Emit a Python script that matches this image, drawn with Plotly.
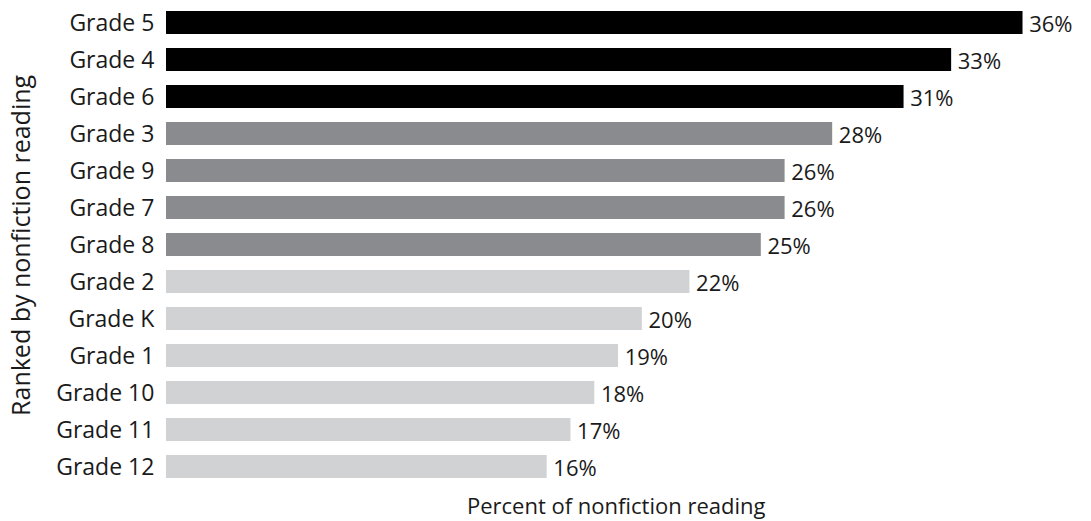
import plotly.graph_objects as go

# Share of nonfiction reading by grade, ranked high to low
grades = ["Grade 5", "Grade 4", "Grade 6", "Grade 3", "Grade 9", "Grade 7", "Grade 8",
          "Grade 2", "Grade K", "Grade 1", "Grade 10", "Grade 11", "Grade 12"]
percent = [36, 33, 31, 28, 26, 26, 25, 22, 20, 19, 18, 17, 16]
tier = ["top", "top", "top", "mid", "mid", "mid", "mid",
        "low", "low", "low", "low", "low", "low"]

tier_colors = {"top": "#000000", "mid": "#8a8b8f", "low": "#d1d2d4"}
bar_colors = [tier_colors[t] for t in tier]

FONT = "'Open Sans', sans-serif"
TEXT = "#1a1a1a"

fig = go.Figure(
    go.Bar(
        x=percent,
        y=grades,
        orientation="h",
        marker=dict(color=bar_colors, line=dict(width=0)),
        # thin space keeps the value labels a few pixels clear of the bar ends
        texttemplate="\u2009%{x}%",
        textposition="outside",
        constraintext="none",
        textfont=dict(family=FONT, size=22, color=TEXT),
        cliponaxis=False,
        hoverinfo="skip",
    )
)

fig.update_layout(
    width=1091,
    height=521,
    margin=dict(l=166, r=9, t=3.5, b=35.5),
    paper_bgcolor="white",
    plot_bgcolor="white",
    bargap=0.38,
    showlegend=False,
    font=dict(family=FONT, color=TEXT),
    xaxis=dict(range=[0, 38.5], showgrid=False, zeroline=False,
               showticklabels=False, showline=False, fixedrange=True),
    yaxis=dict(autorange="reversed", showgrid=False, zeroline=False, showline=False,
               ticks="outside", ticklen=6, tickcolor="rgba(0,0,0,0)",
               tickfont=dict(family=FONT, size=23, color=TEXT), fixedrange=True),
    annotations=[
        dict(text="Percent of nonfiction reading", xref="paper", yref="paper",
             x=0.491, y=-0.041, yanchor="middle", showarrow=False,
             font=dict(family=FONT, size=22, color=TEXT)),
        dict(text="Ranked by nonfiction reading", xref="paper", yref="paper",
             x=-0.16, xanchor="center", y=0.50, textangle=-90, showarrow=False,
             font=dict(family=FONT, size=25, color=TEXT)),
    ],
)

fig.write_html("out.html")
